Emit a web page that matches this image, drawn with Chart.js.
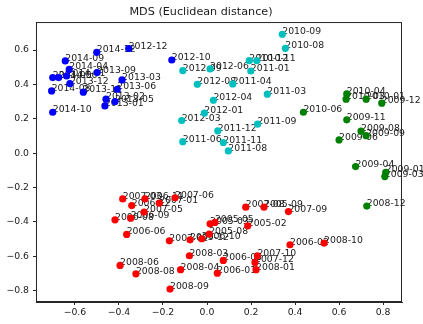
<!DOCTYPE html>
<html>
<head>
<meta charset="utf-8">
<script src="https://cdn.jsdelivr.net/npm/chart.js@4/dist/chart.umd.min.js"></script>
<style>
  html, body { margin: 0; padding: 0; background: #fff; }
  #chartCanvas { display: block; }
</style>
</head>
<body>
<canvas id="chartCanvas" width="423" height="324"></canvas>
<script>
// tick values
const xTicks = [-0.6, -0.4, -0.2, 0.0, 0.2, 0.4, 0.6, 0.8];
const yTicks = [-0.8, -0.6, -0.4, -0.2, 0.0, 0.2, 0.4, 0.6];

// 2012-10 .. 2014-12 (blue)
const blueLabels = ['2014-12', '2012-12', '2014-09', '2014-04', '2014-05', '2014-06', '2014-01', '2013-09', '2013-03',
    '2013-12', '2014-08', '2013-11', '2013-06', '2013-02', '2013-05', '2013-01', '2014-10', '2012-10'];
const blueX = [-0.501, -0.356, -0.644, -0.626, -0.701, -0.674, -0.638, -0.499, -0.386,
    -0.623, -0.706, -0.562, -0.408, -0.459, -0.418, -0.464, -0.701, -0.160];
const blueY = [0.587, 0.609, 0.537, 0.487, 0.440, 0.440, 0.449, 0.469, 0.426,
    0.405, 0.362, 0.355, 0.372, 0.314, 0.300, 0.275, 0.238, 0.542];

// 2010-07 .. 2012-09 (cyan)
const cyanLabels = ['2010-09', '2010-08', '2010-12', '2010-11', '2011-01', '2011-04', '2012-08', '2011-03', '2012-06',
    '2012-09', '2012-04', '2012-01', '2012-03', '2011-09', '2011-12', '2011-06', '2011-11', '2011-08'];
const cyanX = [0.342, 0.356, 0.192, 0.226, 0.199, 0.117, -0.044, 0.274, 0.014,
    -0.110, 0.029, -0.012, -0.115, 0.230, 0.049, -0.110, 0.074, 0.097];
const cyanY = [0.692, 0.610, 0.538, 0.538, 0.478, 0.403, 0.401, 0.343, 0.490,
    0.480, 0.308, 0.233, 0.190, 0.169, 0.130, 0.067, 0.062, 0.013];

// 2008-12 .. 2010-06 (green)
const greenLabels = ['2010-04', '2010-03', '2010-01', '2009-12', '2010-06', '2009-11', '2009-08', '2009-09', '2009-06',
    '2009-04', '2009-01', '2009-03', '2008-12'];
const greenX = [0.635, 0.632, 0.723, 0.794, 0.438, 0.635, 0.700, 0.723, 0.600,
    0.675, 0.812, 0.808, 0.726];
const greenY = [0.345, 0.314, 0.314, 0.291, 0.238, 0.194, 0.128, 0.102, 0.077,
    -0.078, -0.112, -0.136, -0.308];

// 2005-02 .. 2008-10 (red)
const redLabels = ['2007-03', '2006-11', '2006-12', '2007-01', '2007-06', '2007-05', '2006-08', '2006-09', '2006-06',
    '2007-02', '2005-12', '2006-10', '2005-08', '2005-03', '2005-05', '2005-02', '2007-08', '2005-09', '2007-09',
    '2006-02', '2008-10', '2007-10', '2006-05', '2007-12', '2008-01', '2006-01', '2008-03', '2008-04', '2008-06',
    '2008-08', '2008-09'];
const redX = [-0.383, -0.282, -0.342, -0.217, -0.145, -0.286, -0.418, -0.347, -0.365,
    -0.171, -0.077, -0.024, 0.010, 0.014, 0.036, 0.185, 0.176, 0.259, 0.370,
    0.377, 0.532, 0.229, 0.074, 0.218, 0.223, 0.047, -0.080, -0.120, -0.395,
    -0.323, -0.168];
const redY = [-0.266, -0.266, -0.305, -0.291, -0.260, -0.343, -0.388, -0.378, -0.473,
    -0.510, -0.504, -0.498, -0.471, -0.411, -0.403, -0.423, -0.314, -0.314, -0.340,
    -0.533, -0.523, -0.597, -0.624, -0.636, -0.678, -0.698, -0.597, -0.678, -0.653,
    -0.702, -0.791];

function toPoints(xs, ys, labels) {
    return xs.map((x, i) => ({ x: x, y: ys[i], label: labels[i] }));
}

function makeSet(name, xs, ys, labels, color) {
    return {
        label: name,
        data: toPoints(xs, ys, labels),
        backgroundColor: color,
        borderWidth: 0,
        pointRadius: 3.6,
        pointHoverRadius: 3.6
    };
}

const tickFont = { family: 'DejaVu Sans', size: 9.3 };
const minus = v => String(v.toFixed(1)).replace('-', '\u2212');

// matplotlib-style annotations: left/baseline at the point, under the markers
const pointLabels = {
    id: 'pointLabels',
    beforeDatasetsDraw(chart) {
        const ctx = chart.ctx;
        ctx.save();
        ctx.font = '9.3px "DejaVu Sans"';
        ctx.fillStyle = '#1a1a1a';
        ctx.textAlign = 'left';
        ctx.textBaseline = 'alphabetic';
        chart.data.datasets.forEach((ds, i) => {
            chart.getDatasetMeta(i).data.forEach((el, j) => {
                ctx.fillText(ds.data[j].label, el.x, el.y);
            });
        });
        ctx.restore();
    }
};

// full box around the plot like matplotlib spines
const frame = {
    id: 'frame',
    afterDraw(chart) {
        const a = chart.chartArea;
        const ctx = chart.ctx;
        ctx.save();
        ctx.strokeStyle = '#262626';
        ctx.lineWidth = 1;
        ctx.strokeRect(a.left + 0.5, a.top + 0.5, a.right - a.left - 1, a.bottom - a.top - 1);
        ctx.restore();
    }
};

window.addEventListener('load', function () {
    const canvas = document.getElementById('chartCanvas');
    new Chart(canvas, {
        type: 'scatter',
        data: {
            datasets: [
                makeSet('2005-2008', redX, redY, redLabels, '#ff0000'),
                makeSet('2008-2010', greenX, greenY, greenLabels, '#008000'),
                makeSet('2010-2012', cyanX, cyanY, cyanLabels, '#00bfbf'),
                makeSet('2012-2014', blueX, blueY, blueLabels, '#0000ff')
            ]
        },
        options: {
            responsive: false,
            animation: false,
            layout: { padding: { left: 0, right: 21, top: 0, bottom: 0 } },
            plugins: {
                legend: { display: false },
                tooltip: { enabled: false },
                title: {
                    display: true,
                    text: 'MDS (Euclidean distance)',
                    color: '#1a1a1a',
                    font: { family: 'DejaVu Sans', size: 11.2, weight: 'normal' },
                    padding: { top: 5.6, bottom: 3 }
                }
            },
            scales: {
                x: {
                    type: 'linear',
                    min: -0.777,
                    max: 0.886,
                    afterBuildTicks: s => { s.ticks = xTicks.map(v => ({ value: v })); },
                    afterFit: s => { s.height = 22; },
                    grid: { drawOnChartArea: false, drawTicks: true, tickLength: 3, color: '#262626' },
                    border: { display: true, color: '#262626' },
                    ticks: { color: '#1a1a1a', font: tickFont, padding: 2, maxRotation: 0, callback: v => minus(v) }
                },
                y: {
                    type: 'linear',
                    min: -0.866,
                    max: 0.763,
                    afterBuildTicks: s => { s.ticks = yTicks.map(v => ({ value: v })); },
                    afterFit: s => { s.width = 36; },
                    grid: { drawOnChartArea: false, drawTicks: true, tickLength: 3, color: '#262626' },
                    border: { display: true, color: '#262626' },
                    ticks: { color: '#1a1a1a', font: tickFont, padding: 4, callback: v => minus(v) }
                }
            }
        },
        plugins: [pointLabels, frame]
    });
});
</script>
</body>
</html>
